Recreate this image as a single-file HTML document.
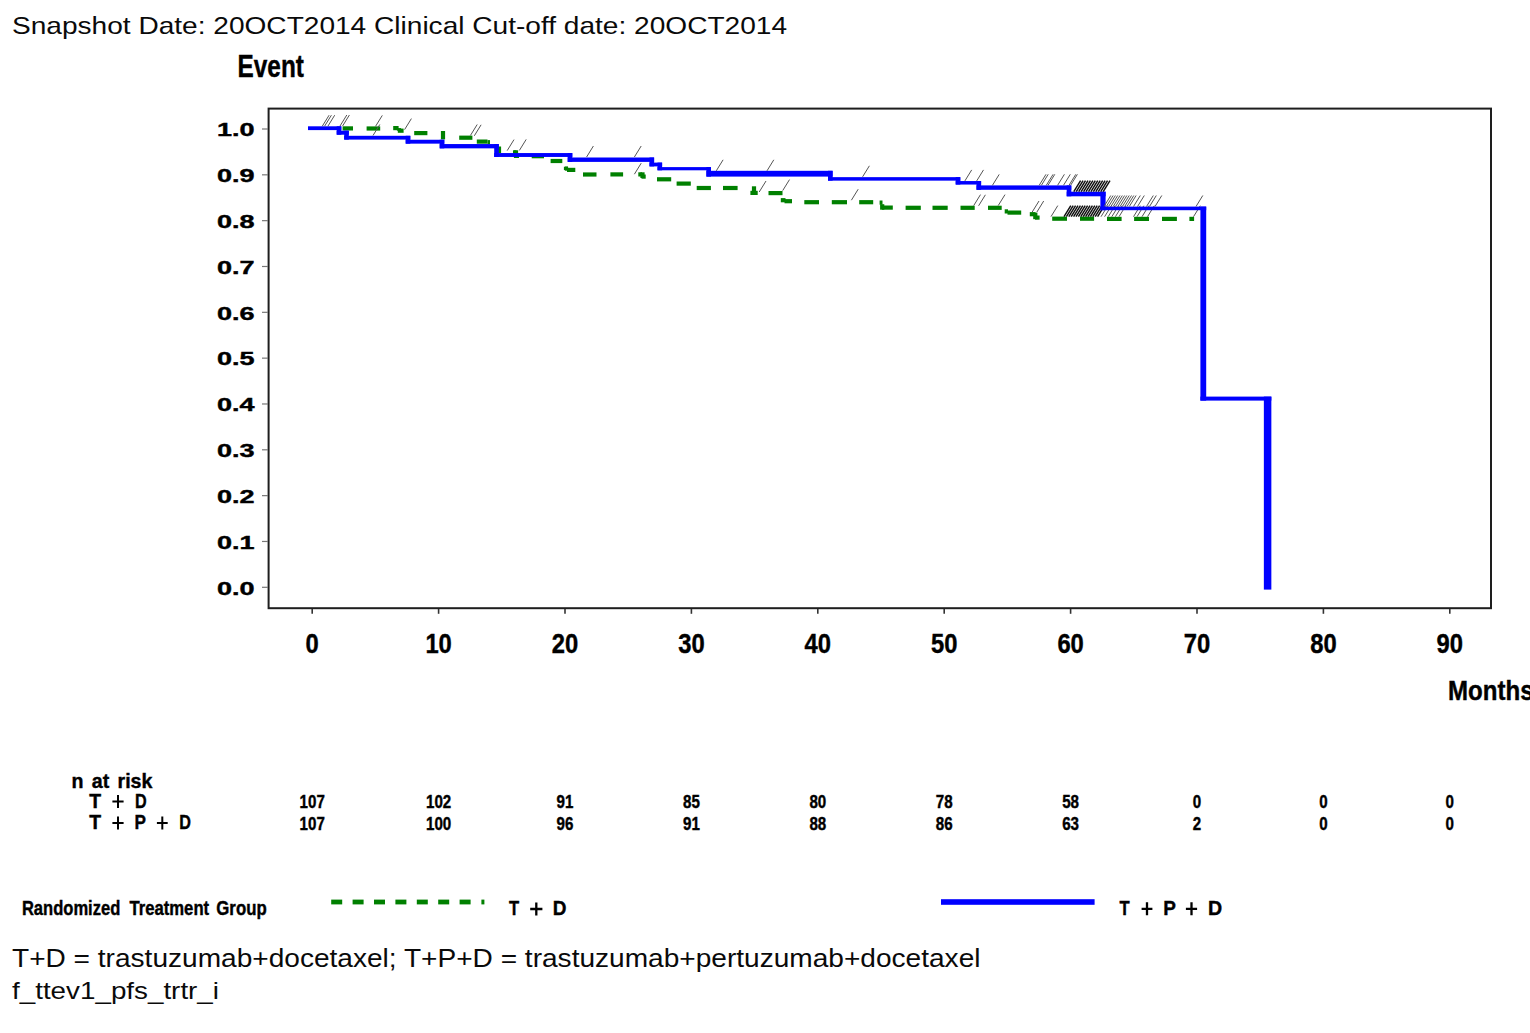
<!DOCTYPE html>
<html><head><meta charset="utf-8"><title>KM plot</title>
<style>
html,body{margin:0;padding:0;background:#fff;width:1530px;height:1033px;overflow:hidden;}
svg{display:block;}
text{font-family:"Liberation Sans",sans-serif;fill:#000;}
.bold{font-weight:bold;stroke:#000;stroke-width:0.4px;}
.reg{font-weight:normal;fill:#0a0a0a;}
</style></head><body>
<svg width="1530" height="1033" viewBox="0 0 1530 1033">
<rect width="1530" height="1033" fill="#ffffff"/>
<text x="12" y="34.4" class="reg" font-size="24.6" textLength="775" lengthAdjust="spacingAndGlyphs">Snapshot Date: 20OCT2014 Clinical Cut-off date: 20OCT2014</text>
<text x="237.6" y="77.1" class="bold" font-size="30.6" textLength="66.3" lengthAdjust="spacingAndGlyphs">Event</text>
<rect x="268.6" y="108.6" width="1222.4" height="499.6" fill="none" stroke="#1e1e1e" stroke-width="2"/>
<line x1="262" y1="587.3" x2="268" y2="587.3" stroke="#777" stroke-width="1.2"/>
<text x="254.5" y="594.6" class="bold yl" font-size="18" text-anchor="end" transform="translate(254.5 0) scale(1.5 1) translate(-254.5 0)">0.0</text>
<line x1="262" y1="541.47" x2="268" y2="541.47" stroke="#777" stroke-width="1.2"/>
<text x="254.5" y="548.77" class="bold yl" font-size="18" text-anchor="end" transform="translate(254.5 0) scale(1.5 1) translate(-254.5 0)">0.1</text>
<line x1="262" y1="495.64" x2="268" y2="495.64" stroke="#777" stroke-width="1.2"/>
<text x="254.5" y="502.94" class="bold yl" font-size="18" text-anchor="end" transform="translate(254.5 0) scale(1.5 1) translate(-254.5 0)">0.2</text>
<line x1="262" y1="449.81" x2="268" y2="449.81" stroke="#777" stroke-width="1.2"/>
<text x="254.5" y="457.11" class="bold yl" font-size="18" text-anchor="end" transform="translate(254.5 0) scale(1.5 1) translate(-254.5 0)">0.3</text>
<line x1="262" y1="403.98" x2="268" y2="403.98" stroke="#777" stroke-width="1.2"/>
<text x="254.5" y="411.28" class="bold yl" font-size="18" text-anchor="end" transform="translate(254.5 0) scale(1.5 1) translate(-254.5 0)">0.4</text>
<line x1="262" y1="358.15" x2="268" y2="358.15" stroke="#777" stroke-width="1.2"/>
<text x="254.5" y="365.45" class="bold yl" font-size="18" text-anchor="end" transform="translate(254.5 0) scale(1.5 1) translate(-254.5 0)">0.5</text>
<line x1="262" y1="312.32" x2="268" y2="312.32" stroke="#777" stroke-width="1.2"/>
<text x="254.5" y="319.62" class="bold yl" font-size="18" text-anchor="end" transform="translate(254.5 0) scale(1.5 1) translate(-254.5 0)">0.6</text>
<line x1="262" y1="266.49" x2="268" y2="266.49" stroke="#777" stroke-width="1.2"/>
<text x="254.5" y="273.79" class="bold yl" font-size="18" text-anchor="end" transform="translate(254.5 0) scale(1.5 1) translate(-254.5 0)">0.7</text>
<line x1="262" y1="220.66" x2="268" y2="220.66" stroke="#777" stroke-width="1.2"/>
<text x="254.5" y="227.96" class="bold yl" font-size="18" text-anchor="end" transform="translate(254.5 0) scale(1.5 1) translate(-254.5 0)">0.8</text>
<line x1="262" y1="174.83" x2="268" y2="174.83" stroke="#777" stroke-width="1.2"/>
<text x="254.5" y="182.13" class="bold yl" font-size="18" text-anchor="end" transform="translate(254.5 0) scale(1.5 1) translate(-254.5 0)">0.9</text>
<line x1="262" y1="129" x2="268" y2="129" stroke="#777" stroke-width="1.2"/>
<text x="254.5" y="136.3" class="bold yl" font-size="18" text-anchor="end" transform="translate(254.5 0) scale(1.5 1) translate(-254.5 0)">1.0</text>
<line x1="312.2" y1="609" x2="312.2" y2="613.8" stroke="#333" stroke-width="1.6"/>
<text x="312.2" y="652.7" class="bold" font-size="27" text-anchor="middle" transform="translate(312.2 0) scale(0.88 1) translate(-312.2 0)">0</text>
<line x1="438.6" y1="609" x2="438.6" y2="613.8" stroke="#333" stroke-width="1.6"/>
<text x="438.6" y="652.7" class="bold" font-size="27" text-anchor="middle" transform="translate(438.6 0) scale(0.88 1) translate(-438.6 0)">10</text>
<line x1="565" y1="609" x2="565" y2="613.8" stroke="#333" stroke-width="1.6"/>
<text x="565" y="652.7" class="bold" font-size="27" text-anchor="middle" transform="translate(565 0) scale(0.88 1) translate(-565 0)">20</text>
<line x1="691.4" y1="609" x2="691.4" y2="613.8" stroke="#333" stroke-width="1.6"/>
<text x="691.4" y="652.7" class="bold" font-size="27" text-anchor="middle" transform="translate(691.4 0) scale(0.88 1) translate(-691.4 0)">30</text>
<line x1="817.8" y1="609" x2="817.8" y2="613.8" stroke="#333" stroke-width="1.6"/>
<text x="817.8" y="652.7" class="bold" font-size="27" text-anchor="middle" transform="translate(817.8 0) scale(0.88 1) translate(-817.8 0)">40</text>
<line x1="944.2" y1="609" x2="944.2" y2="613.8" stroke="#333" stroke-width="1.6"/>
<text x="944.2" y="652.7" class="bold" font-size="27" text-anchor="middle" transform="translate(944.2 0) scale(0.88 1) translate(-944.2 0)">50</text>
<line x1="1070.6" y1="609" x2="1070.6" y2="613.8" stroke="#333" stroke-width="1.6"/>
<text x="1070.6" y="652.7" class="bold" font-size="27" text-anchor="middle" transform="translate(1070.6 0) scale(0.88 1) translate(-1070.6 0)">60</text>
<line x1="1197" y1="609" x2="1197" y2="613.8" stroke="#333" stroke-width="1.6"/>
<text x="1197" y="652.7" class="bold" font-size="27" text-anchor="middle" transform="translate(1197 0) scale(0.88 1) translate(-1197 0)">70</text>
<line x1="1323.4" y1="609" x2="1323.4" y2="613.8" stroke="#333" stroke-width="1.6"/>
<text x="1323.4" y="652.7" class="bold" font-size="27" text-anchor="middle" transform="translate(1323.4 0) scale(0.88 1) translate(-1323.4 0)">80</text>
<line x1="1449.8" y1="609" x2="1449.8" y2="613.8" stroke="#333" stroke-width="1.6"/>
<text x="1449.8" y="652.7" class="bold" font-size="27" text-anchor="middle" transform="translate(1449.8 0) scale(0.88 1) translate(-1449.8 0)">90</text>
<text x="1448" y="700.3" class="bold" font-size="28" transform="translate(1448 0) scale(0.86 1) translate(-1448 0)">Months</text>
<g fill="#008000"><rect x="342.6" y="126.3" width="10.4" height="4.2"/><rect x="366.6" y="126.4" width="13.6" height="4.2"/><rect x="393.2" y="126" width="5.4" height="4.2"/><rect x="397.8" y="128.6" width="5.8" height="4.2"/><rect x="414.2" y="131" width="13.2" height="4.2"/><rect x="459.2" y="135.6" width="13.2" height="4.2"/><rect x="476.8" y="139.5" width="10.7" height="4.2"/><rect x="487.5" y="140.1" width="2.5" height="4.2"/><rect x="513" y="150.3" width="3.5" height="4.2"/><rect x="515.5" y="153.8" width="3.5" height="4.2"/><rect x="531.7" y="154.1" width="12.3" height="4.2"/><rect x="550.6" y="158.9" width="11.7" height="4.2"/><rect x="564.8" y="166.5" width="3.2" height="4.2"/><rect x="567" y="167.8" width="8.3" height="4.2"/><rect x="583" y="172.4" width="13.5" height="4.2"/><rect x="610.4" y="172.3" width="12.7" height="4.2"/><rect x="638.3" y="172.3" width="3.7" height="4.2"/><rect x="641.5" y="174.5" width="4.2" height="4.2"/><rect x="657" y="177.2" width="14.2" height="4.2"/><rect x="676.6" y="181.5" width="14.2" height="4.2"/><rect x="696.7" y="185.9" width="14.2" height="4.2"/><rect x="723" y="185.9" width="14.6" height="4.2"/><rect x="750.4" y="190.8" width="7.3" height="4.2"/><rect x="768.5" y="191" width="14" height="4.2"/><rect x="780.8" y="198.1" width="4.7" height="4.2"/><rect x="784.5" y="199.1" width="7.5" height="4.2"/><rect x="804.3" y="200.1" width="14.7" height="4.2"/><rect x="831.8" y="200.1" width="15.2" height="4.2"/><rect x="859.2" y="200.1" width="14" height="4.2"/><rect x="879.6" y="200.5" width="2.9" height="4.2"/><rect x="882" y="205.5" width="10.8" height="4.2"/><rect x="905.6" y="205.7" width="15.2" height="4.2"/><rect x="932.5" y="205.7" width="15.2" height="4.2"/><rect x="960.5" y="205.7" width="14.2" height="4.2"/><rect x="988" y="205.7" width="13.7" height="4.2"/><rect x="1004.7" y="209.3" width="3.3" height="4.2"/><rect x="1007.5" y="210.5" width="13.7" height="4.2"/><rect x="1029.8" y="212.1" width="5.7" height="4.2"/><rect x="1035" y="215.5" width="4.6" height="4.2"/><rect x="1052.2" y="216.6" width="14.8" height="4.2"/><rect x="1080" y="216.6" width="14.1" height="4.2"/><rect x="1107" y="216.8" width="14.6" height="4.2"/><rect x="1134.1" y="216.8" width="14.9" height="4.2"/><rect x="1162" y="216.8" width="14.9" height="4.2"/><rect x="1189.4" y="216.8" width="4.7" height="4.2"/><rect x="396.9" y="128.1" width="4.2" height="2.6"/><rect x="440.9" y="131" width="4.2" height="8.4"/><rect x="496.9" y="146.5" width="4.2" height="6.5"/><rect x="513.9" y="150.3" width="4.2" height="7.7"/><rect x="563.9" y="166.8" width="4.2" height="3.2"/><rect x="640.4" y="172.3" width="4.2" height="5.7"/><rect x="751.9" y="186.3" width="4.2" height="8.7"/><rect x="880.1" y="204.2" width="4.2" height="5.5"/><rect x="1033.2" y="212.6" width="4.2" height="6.6"/></g>
<path d="M375.5 126.4l6.8 -11M404.6 129.6l6.8 -11M470.4 135.5l6.8 -11M474.3 135.8l6.8 -11M507.2 150.6l6.8 -11M519.4 150.4l6.8 -11M634.4 174.2l6.8 -11M759.2 192l6.8 -11M782.7 190.6l6.8 -11M851.4 200.2l6.8 -11M973.7 205.6l6.8 -11M978.6 205.8l6.8 -11M998.2 205.6l6.8 -11M1032.2 212l6.8 -11M1036.9 212l6.8 -11M1051 216.6l6.8 -11M1101 216.7l6.8 -11M1104.6 216.7l6.8 -11M1108.2 216.7l6.8 -11M1111.8 216.7l6.8 -11M1115.4 216.7l6.8 -11M1119 216.7l6.8 -11M1133.5 216.7l6.8 -11M1137 216.7l6.8 -11M1142 216.7l6.8 -11M1147.5 216.7l6.8 -11M1193.5 216.7l6.8 -11" stroke="#555" stroke-width="1.0" fill="none"/>
<path d="M1064 216.6l6.8 -11M1066.4 216.6l6.8 -11M1068.8 216.6l6.8 -11M1071.2 216.6l6.8 -11M1073.6 216.6l6.8 -11M1076 216.6l6.8 -11M1078.4 216.6l6.8 -11M1080.8 216.6l6.8 -11M1083.2 216.6l6.8 -11M1085.6 216.6l6.8 -11M1088 216.6l6.8 -11M1090.4 216.6l6.8 -11M1092.8 216.6l6.8 -11M1095.2 216.6l6.8 -11M1097.6 216.6l6.8 -11" stroke="#111" stroke-width="1.45" fill="none"/>
<g fill="#0000ff"><rect x="308" y="126.3" width="33.3" height="3.8"/><rect x="336.7" y="126.3" width="4.6" height="8.4"/><rect x="336.7" y="130.7" width="12.1" height="4"/><rect x="344.2" y="130.7" width="4.6" height="8.9"/><rect x="344.2" y="135.8" width="66.1" height="3.8"/><rect x="405.7" y="135.8" width="4.6" height="7.85"/><rect x="405.7" y="139.75" width="38.6" height="3.9"/><rect x="439.7" y="139.75" width="4.6" height="8.6"/><rect x="439.7" y="144.05" width="59.1" height="4.3"/><rect x="494.2" y="144.05" width="4.6" height="12.9"/><rect x="494.2" y="153.05" width="78.1" height="3.9"/><rect x="567.7" y="153.05" width="4.6" height="8.85"/><rect x="567.7" y="157.5" width="86.4" height="4.4"/><rect x="649.5" y="157.5" width="4.6" height="8.9"/><rect x="649.5" y="162.6" width="12.6" height="3.8"/><rect x="657.5" y="162.6" width="4.6" height="7.7"/><rect x="657.5" y="167.1" width="53.5" height="3.2"/><rect x="706.4" y="167.1" width="4.6" height="9.5"/><rect x="706.4" y="170.8" width="126.2" height="5.8"/><rect x="828" y="170.8" width="4.6" height="9.85"/><rect x="828" y="177.15" width="132.3" height="3.5"/><rect x="955.7" y="177.15" width="4.6" height="7.4"/><rect x="955.7" y="181.05" width="25.4" height="3.5"/><rect x="976.5" y="181.05" width="4.6" height="8.75"/><rect x="976.5" y="185.4" width="94.8" height="4.4"/><rect x="1066.7" y="185.4" width="4.6" height="10.9"/><rect x="1066.7" y="191.7" width="38.9" height="4.6"/><rect x="1100.4" y="191.7" width="5.2" height="18.5"/><rect x="1100.4" y="206.6" width="105.8" height="3.6"/><rect x="1200.4" y="206.6" width="5.8" height="194"/><rect x="1200.4" y="396.6" width="70.95" height="4"/><rect x="1263.85" y="396.6" width="7.5" height="193"/></g>
<path d="M322.3 126.2l6.8 -11M324.6 126.2l6.8 -11M327.9 126.2l6.8 -11M340 126l6.8 -11M342.6 126l6.8 -11M373 135.5l6.8 -11M586.6 157l6.8 -11M634.4 157l6.8 -11M716.3 170.8l6.8 -11M767 170.8l6.8 -11M862.6 176.8l6.8 -11M964.9 180.9l6.8 -11M976.7 180.9l6.8 -11M992.4 185.4l6.8 -11M1039.2 185.3l6.8 -11M1041.4 185.3l6.8 -11M1046.3 185.3l6.8 -11M1048 185.3l6.8 -11M1057.6 185.3l6.8 -11M1063.5 185.3l6.8 -11M1069 185.3l6.8 -11M1070.6 185.3l6.8 -11M1104 206.5l6.8 -11M1106.3 206.5l6.8 -11M1108.6 206.5l6.8 -11M1110.9 206.5l6.8 -11M1113.2 206.5l6.8 -11M1115.5 206.5l6.8 -11M1117.8 206.5l6.8 -11M1120.1 206.5l6.8 -11M1122.4 206.5l6.8 -11M1124.7 206.5l6.8 -11M1127 206.5l6.8 -11M1129.3 206.5l6.8 -11M1133.5 206.5l6.8 -11M1137.5 206.5l6.8 -11M1146.5 206.5l6.8 -11M1149.5 206.5l6.8 -11M1155 206.5l6.8 -11M1196 206.5l6.8 -11" stroke="#555" stroke-width="1.0" fill="none"/>
<path d="M1073.8 191.6l6.8 -11M1076.25 191.6l6.8 -11M1078.7 191.6l6.8 -11M1081.15 191.6l6.8 -11M1083.6 191.6l6.8 -11M1086.05 191.6l6.8 -11M1088.5 191.6l6.8 -11M1090.95 191.6l6.8 -11M1093.4 191.6l6.8 -11M1095.85 191.6l6.8 -11M1098.3 191.6l6.8 -11M1100.75 191.6l6.8 -11M1103.2 191.6l6.8 -11" stroke="#111" stroke-width="1.45" fill="none"/>
<text x="77.5" y="788" class="bold" font-size="20" text-anchor="middle" transform="translate(77.5 0) scale(0.98 1) translate(-77.5 0)">n</text>
<text x="100.6" y="788" class="bold" font-size="20" text-anchor="middle" transform="translate(100.6 0) scale(0.98 1) translate(-100.6 0)">at</text>
<text x="135" y="788" class="bold" font-size="20" text-anchor="middle" transform="translate(135 0) scale(0.98 1) translate(-135 0)">risk</text>
<text x="95.1" y="808" class="bold" font-size="20" text-anchor="middle" transform="translate(95.1 0) scale(0.97 1) translate(-95.1 0)">T</text>
<path d="M112.4 801.6h11.2M118 795.1v13" stroke="#000" stroke-width="2" fill="none"/>
<text x="140.8" y="808" class="bold" font-size="20" text-anchor="middle" transform="translate(140.8 0) scale(0.81 1) translate(-140.8 0)">D</text>
<text x="95.1" y="829.2" class="bold" font-size="20" text-anchor="middle" transform="translate(95.1 0) scale(0.97 1) translate(-95.1 0)">T</text>
<path d="M112.4 822.9h11.2M118 816.4v13" stroke="#000" stroke-width="2" fill="none"/>
<text x="140.3" y="829.2" class="bold" font-size="20" text-anchor="middle" transform="translate(140.3 0) scale(0.86 1) translate(-140.3 0)">P</text>
<path d="M156.9 822.9h10.8M162.3 816.4v13" stroke="#000" stroke-width="2" fill="none"/>
<text x="185.2" y="829.2" class="bold" font-size="20" text-anchor="middle" transform="translate(185.2 0) scale(0.81 1) translate(-185.2 0)">D</text>
<text x="312.2" y="808" class="bold" font-size="17.8" text-anchor="middle" transform="translate(312.2 0) scale(0.85 1) translate(-312.2 0)">107</text>
<text x="312.2" y="829.6" class="bold" font-size="17.8" text-anchor="middle" transform="translate(312.2 0) scale(0.85 1) translate(-312.2 0)">107</text>
<text x="438.6" y="808" class="bold" font-size="17.8" text-anchor="middle" transform="translate(438.6 0) scale(0.85 1) translate(-438.6 0)">102</text>
<text x="438.6" y="829.6" class="bold" font-size="17.8" text-anchor="middle" transform="translate(438.6 0) scale(0.85 1) translate(-438.6 0)">100</text>
<text x="565" y="808" class="bold" font-size="17.8" text-anchor="middle" transform="translate(565 0) scale(0.85 1) translate(-565 0)">91</text>
<text x="565" y="829.6" class="bold" font-size="17.8" text-anchor="middle" transform="translate(565 0) scale(0.85 1) translate(-565 0)">96</text>
<text x="691.4" y="808" class="bold" font-size="17.8" text-anchor="middle" transform="translate(691.4 0) scale(0.85 1) translate(-691.4 0)">85</text>
<text x="691.4" y="829.6" class="bold" font-size="17.8" text-anchor="middle" transform="translate(691.4 0) scale(0.85 1) translate(-691.4 0)">91</text>
<text x="817.8" y="808" class="bold" font-size="17.8" text-anchor="middle" transform="translate(817.8 0) scale(0.85 1) translate(-817.8 0)">80</text>
<text x="817.8" y="829.6" class="bold" font-size="17.8" text-anchor="middle" transform="translate(817.8 0) scale(0.85 1) translate(-817.8 0)">88</text>
<text x="944.2" y="808" class="bold" font-size="17.8" text-anchor="middle" transform="translate(944.2 0) scale(0.85 1) translate(-944.2 0)">78</text>
<text x="944.2" y="829.6" class="bold" font-size="17.8" text-anchor="middle" transform="translate(944.2 0) scale(0.85 1) translate(-944.2 0)">86</text>
<text x="1070.6" y="808" class="bold" font-size="17.8" text-anchor="middle" transform="translate(1070.6 0) scale(0.85 1) translate(-1070.6 0)">58</text>
<text x="1070.6" y="829.6" class="bold" font-size="17.8" text-anchor="middle" transform="translate(1070.6 0) scale(0.85 1) translate(-1070.6 0)">63</text>
<text x="1197" y="808" class="bold" font-size="17.8" text-anchor="middle" transform="translate(1197 0) scale(0.85 1) translate(-1197 0)">0</text>
<text x="1197" y="829.6" class="bold" font-size="17.8" text-anchor="middle" transform="translate(1197 0) scale(0.85 1) translate(-1197 0)">2</text>
<text x="1323.4" y="808" class="bold" font-size="17.8" text-anchor="middle" transform="translate(1323.4 0) scale(0.85 1) translate(-1323.4 0)">0</text>
<text x="1323.4" y="829.6" class="bold" font-size="17.8" text-anchor="middle" transform="translate(1323.4 0) scale(0.85 1) translate(-1323.4 0)">0</text>
<text x="1449.8" y="808" class="bold" font-size="17.8" text-anchor="middle" transform="translate(1449.8 0) scale(0.85 1) translate(-1449.8 0)">0</text>
<text x="1449.8" y="829.6" class="bold" font-size="17.8" text-anchor="middle" transform="translate(1449.8 0) scale(0.85 1) translate(-1449.8 0)">0</text>
<text x="71.1" y="915.2" class="bold" font-size="19.4" text-anchor="middle" textLength="98.4" lengthAdjust="spacingAndGlyphs">Randomized</text>
<text x="169.3" y="915.2" class="bold" font-size="19.4" text-anchor="middle" textLength="79.7" lengthAdjust="spacingAndGlyphs">Treatment</text>
<text x="241.5" y="915.2" class="bold" font-size="19.4" text-anchor="middle" textLength="50.4" lengthAdjust="spacingAndGlyphs">Group</text>
<g fill="#008000"><rect x="331.2" y="899.6" width="11" height="4.8"/><rect x="352.6" y="899.6" width="11" height="4.8"/><rect x="374" y="899.6" width="11" height="4.8"/><rect x="395.4" y="899.6" width="11" height="4.8"/><rect x="416.8" y="899.6" width="11" height="4.8"/><rect x="438.2" y="899.6" width="11" height="4.8"/><rect x="459.6" y="899.6" width="11" height="4.8"/><rect x="481.4" y="899.6" width="3" height="4.8"/></g>
<text x="514.1" y="915.5" class="bold" font-size="20" text-anchor="middle" transform="translate(514.1 0) scale(0.83 1) translate(-514.1 0)">T</text>
<path d="M530.2 909h12.2M536.3 902.5v13" stroke="#000" stroke-width="2.3" fill="none"/>
<text x="559.6" y="915.5" class="bold" font-size="20" text-anchor="middle" transform="translate(559.6 0) scale(0.95 1) translate(-559.6 0)">D</text>
<rect x="941" y="899.2" width="153.6" height="5.6" fill="#0000ff"/>
<text x="1124.5" y="915.3" class="bold" font-size="20" text-anchor="middle" transform="translate(1124.5 0) scale(0.83 1) translate(-1124.5 0)">T</text>
<path d="M1141.6 908.8h10.8M1147 902.3v13" stroke="#000" stroke-width="2.3" fill="none"/>
<text x="1169.5" y="915.3" class="bold" font-size="20" text-anchor="middle" transform="translate(1169.5 0) scale(0.95 1) translate(-1169.5 0)">P</text>
<path d="M1185.9 908.8h11.2M1191.5 902.3v13" stroke="#000" stroke-width="2.3" fill="none"/>
<text x="1215" y="915.3" class="bold" font-size="20" text-anchor="middle" transform="translate(1215 0) scale(0.98 1) translate(-1215 0)">D</text>
<text x="12" y="967.3" class="reg" font-size="24.9" textLength="968.5" lengthAdjust="spacingAndGlyphs">T+D = trastuzumab+docetaxel; T+P+D = trastuzumab+pertuzumab+docetaxel</text>
<text x="12" y="999.3" class="reg" font-size="24.3" textLength="207" lengthAdjust="spacingAndGlyphs">f_ttev1_pfs_trtr_i</text>
</svg>
</body></html>
